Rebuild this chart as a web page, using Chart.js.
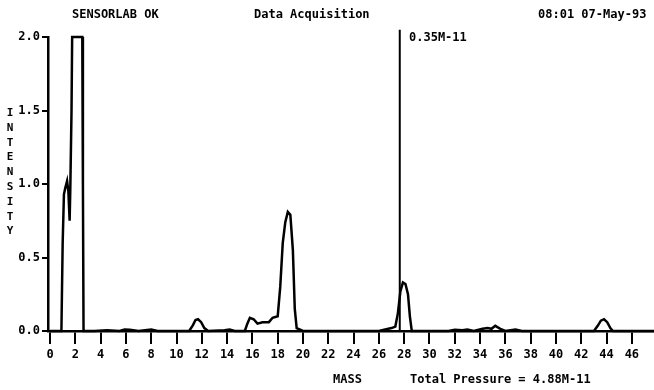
<!DOCTYPE html>
<html lang="en">
<head>
<meta charset="UTF-8">
<title>Data Acquisition</title>
<script src="https://cdn.jsdelivr.net/npm/chart.js"></script>
<style>
  body { margin: 0; background: #fff; }
  #wrap { position: relative; width: 654px; height: 390px; }
  .lbl { position: absolute; font: bold 12px "DejaVu Sans Mono", monospace; color: #000; white-space: nowrap; line-height: 12px; }
  #ytitle { position: absolute; left: 4px; top: 106px; width: 12px; text-align: center;
            font: bold 11px "DejaVu Sans Mono", monospace; line-height: 14.8px; }
</style>
</head>
<body>
<div id="wrap">
  <canvas id="massChart" width="654" height="390"></canvas>
  <div class="lbl" style="left:72px; top:8px;">SENSORLAB OK</div>
  <div class="lbl" style="left:254px; top:8px;">Data Acquisition</div>
  <div class="lbl" style="left:538px; top:8px;">08:01 07-May-93</div>
  <div class="lbl" style="left:409px; top:31px;">0.35M-11</div>
  <div class="lbl" style="left:333px; top:373px;">MASS</div>
  <div class="lbl" style="left:410px; top:373px;">Total Pressure = 4.88M-11</div>
  <div id="ytitle">I<br>N<br>T<br>E<br>N<br>S<br>I<br>T<br>Y</div>
</div>
<script>
// scan trace
const mass = [0, 0.5, 0.9, 1.0, 1.1, 1.2, 1.35, 1.45, 1.55, 1.6, 1.7, 1.75, 2.55, 2.6, 2.65,
  3.5, 4.5, 5.5, 5.9, 6.3, 7, 8, 8.5, 11.0, 11.3, 11.5, 11.7, 11.95, 12.2, 12.5,
  13.8, 14.2, 14.6, 15.4, 15.6, 15.8, 16.1, 16.4, 16.8, 17.3, 17.6, 18.0, 18.2, 18.4, 18.6, 18.8, 19.0, 19.2, 19.35, 19.5, 20,
  26, 26.5, 27.0, 27.3, 27.5, 27.7, 27.9, 28.1, 28.3, 28.45, 28.6, 29,
  31.5, 32, 32.6, 33, 33.5, 34.2, 34.6, 34.9, 35.2, 35.6, 36, 36.8, 37.3,
  43.0, 43.3, 43.55, 43.8, 44.05, 44.3, 44.5, 47.8];
const intensity = [0, 0, 0, 0.6, 0.93, 0.97, 1.02, 0.95, 0.75, 0.95, 1.5, 2.0, 2.0, 1.0, 0,
  0, 0.005, 0, 0.01, 0.008, 0, 0.01, 0, 0, 0.04, 0.075, 0.08, 0.06, 0.02, 0,
  0.005, 0.01, 0, 0, 0.05, 0.09, 0.08, 0.05, 0.06, 0.06, 0.09, 0.1, 0.3, 0.6, 0.74, 0.81, 0.79, 0.55, 0.15, 0.02, 0,
  0, 0.01, 0.02, 0.03, 0.12, 0.27, 0.33, 0.32, 0.25, 0.1, 0, 0,
  0, 0.008, 0.005, 0.01, 0, 0.015, 0.02, 0.015, 0.035, 0.015, 0, 0.01, 0,
  0, 0.035, 0.07, 0.08, 0.06, 0.02, 0, 0];

// cursor marker
const cursorMass = 27.65;
const cursorTop = 2.05;

const xTicks = [0, 2, 4, 6, 8, 10, 12, 14, 16, 18, 20, 22, 24, 26, 28, 30, 32, 34, 36, 38, 40, 42, 44, 46];
const yTicks = [0, 0.5, 1.0, 1.5, 2.0];

const tickFont = { family: "DejaVu Sans Mono", size: 12, weight: "bold" };

new Chart(document.getElementById("massChart"), {
  type: "line",
  data: {
    datasets: [
      {
        data: mass.map((m, i) => ({ x: m, y: intensity[i] })),
        borderColor: "#000",
        borderWidth: 2.5,
        pointRadius: 0,
        tension: 0,
        clip: 6
      },
      {
        data: [{ x: cursorMass, y: 0 }, { x: cursorMass, y: cursorTop }],
        borderColor: "#000",
        borderWidth: 2,
        pointRadius: 0,
        clip: false
      }
    ]
  },
  options: {
    responsive: false,
    animation: false,
    layout: { padding: { top: 37, right: 0, left: 0, bottom: 0 } },
    plugins: { legend: { display: false }, tooltip: { enabled: false } },
    scales: {
      x: {
        type: "linear",
        min: -0.16,
        max: 47.75,
        afterBuildTicks: s => { s.ticks = xTicks.map(v => ({ value: v })); },
        afterFit: s => { s.height = 59; },
        border: { display: true, color: "#000", width: 2.5 },
        grid: { drawOnChartArea: false, drawTicks: true, tickLength: 13, color: "#000", lineWidth: 2 },
        ticks: { color: "#000", font: tickFont, padding: 4, maxRotation: 0, autoSkip: false }
      },
      y: {
        min: 0,
        max: 2.0,
        afterBuildTicks: s => { s.ticks = yTicks.map(v => ({ value: v })); },
        afterFit: s => { s.width = 48; },
        border: { display: true, color: "#000", width: 2.5 },
        grid: { drawOnChartArea: false, drawTicks: true, tickLength: 6, color: "#000", lineWidth: 2 },
        ticks: { color: "#000", font: tickFont, padding: 2, callback: v => v.toFixed(1) }
      }
    }
  }
});
</script>
</body>
</html>
